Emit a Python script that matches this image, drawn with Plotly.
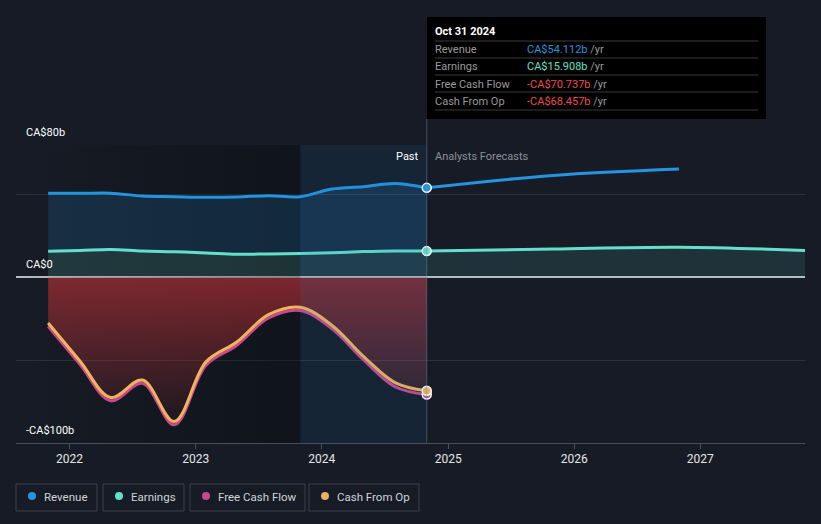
import plotly.graph_objects as go

# ---------------- data ----------------
past_dates = ["2021-10-31", "2022-01-31", "2022-04-30", "2022-07-31", "2022-10-31",
              "2023-01-31", "2023-04-30", "2023-07-31", "2023-10-31", "2024-01-31",
              "2024-04-30", "2024-07-31", "2024-10-31"]
revenue_past = [50.8, 50.8, 50.9, 49.2, 48.8, 48.4, 48.6, 49.4, 48.8, 53.4, 54.8, 56.8, 54.112]
earnings_past = [15.8, 16.3, 16.9, 15.9, 15.5, 14.8, 14.0, 14.2, 14.4, 14.9, 15.6, 16.0, 15.908]
fcf_past = [-29.5, -52.5, -74.5, -64.0, -89.0, -53.0, -41.0, -24.5, -20.0, -31.0, -49.5, -66.0, -70.737]
cfo_past = [-27.5, -50.5, -72.5, -62.0, -87.0, -51.0, -39.0, -22.5, -18.0, -29.0, -47.5, -63.5, -68.457]

rev_fc_dates = ["2024-10-31", "2025-10-31", "2026-10-31"]
revenue_fc = [54.112, 61.6, 65.5]
earn_fc_dates = ["2024-10-31", "2025-10-31", "2026-10-31", "2027-10-31"]
earnings_fc = [15.908, 17.2, 18.3, 16.3]

x_range = ["2021-07-30", "2027-10-31"]
y_range = [-100, 80]
grid_vals = [-100, -50, 0, 50, 80]
y_labels = {80: "CA$80b", 0: "CA$0", -100: "-CA$100b"}
band_start, band_end = "2023-10-31", "2024-10-31"

tooltip_date = "Oct 31 2024"
tooltip_rows = [("Revenue", "CA$54.112b", "#2394df"),
                ("Earnings", "CA$15.908b", "#5ee2c8"),
                ("Free Cash Flow", "-CA$70.737b", "#f04a4a"),
                ("Cash From Op", "-CA$68.457b", "#f04a4a")]
legend_items = [("Revenue", "#2394df"), ("Earnings", "#5ee2c8"),
                ("Free Cash Flow", "#c94a8c"), ("Cash From Op", "#e8b060")]

C_REV = "#2394df"
C_EARN = "#62e0cc"
C_FCF = "#c94a8c"
C_CFO = "#efb45c"
BG = "#161b25"
FONT = "Roboto"

# ---------------- geometry helpers (pixels -> paper) ----------------
W, H = 821, 524
L, R, T, B = 16, 805, 145, 443


def px(x):
    return (x - L) / (R - L)


def py(y):
    return (B - y) / (B - T)


fig = go.Figure()

# darker region before the highlighted year
fig.add_trace(go.Scatter(
    x=[x_range[0], band_start, band_start, x_range[0], x_range[0]],
    y=[y_range[0], y_range[0], y_range[1], y_range[1], y_range[0]],
    mode="none", fill="toself",
    fillgradient=dict(type="horizontal",
                      colorscale=[[0, "rgba(0,0,0,0)"], [1, "rgba(0,0,0,0.28)"]]),
    hoverinfo="skip", showlegend=False))

# earnings (filled to zero) then revenue filled to earnings
fig.add_trace(go.Scatter(x=past_dates, y=earnings_past, mode="none", fill="tozeroy",
                         fillcolor="rgba(98,224,204,0.16)", line_shape="spline",
                         hoverinfo="skip", showlegend=False))
fig.add_trace(go.Scatter(x=past_dates, y=revenue_past, mode="none", fill="tonexty",
                         fillcolor="rgba(35,148,223,0.17)", line_shape="spline",
                         hoverinfo="skip", showlegend=False))
fig.add_trace(go.Scatter(x=earn_fc_dates, y=earnings_fc, mode="none", fill="tozeroy",
                         fillcolor="rgba(98,224,204,0.12)", line_shape="spline",
                         hoverinfo="skip", showlegend=False))
fig.add_trace(go.Scatter(x=rev_fc_dates, y=earnings_fc[:len(rev_fc_dates)], mode="none",
                         line_shape="spline", hoverinfo="skip", showlegend=False))
fig.add_trace(go.Scatter(x=rev_fc_dates, y=revenue_fc, mode="none", fill="tonexty",
                         fillcolor="rgba(35,148,223,0.13)", line_shape="spline",
                         hoverinfo="skip", showlegend=False))

# negative cash flow area
fig.add_trace(go.Scatter(
    x=past_dates, y=fcf_past, mode="none", fill="tozeroy", line_shape="spline",
    fillgradient=dict(type="vertical",
                      colorscale=[[0, "rgba(190,50,55,0.05)"], [1, "rgba(190,50,55,0.62)"]]),
    hoverinfo="skip", showlegend=False))

# lines
fig.add_trace(go.Scatter(x=past_dates, y=revenue_past, mode="lines", line=dict(color=C_REV, width=3, shape="spline"), showlegend=False))
fig.add_trace(go.Scatter(x=rev_fc_dates, y=revenue_fc, mode="lines", line=dict(color=C_REV, width=3, shape="spline"), showlegend=False))
fig.add_trace(go.Scatter(x=past_dates, y=earnings_past, mode="lines", line=dict(color=C_EARN, width=3, shape="spline"), showlegend=False))
fig.add_trace(go.Scatter(x=earn_fc_dates, y=earnings_fc, mode="lines", line=dict(color=C_EARN, width=3, shape="spline"), showlegend=False))
fig.add_trace(go.Scatter(x=past_dates, y=fcf_past, mode="lines", line=dict(color=C_FCF, width=3, shape="spline"), showlegend=False))
fig.add_trace(go.Scatter(x=past_dates, y=cfo_past, mode="lines", line=dict(color=C_CFO, width=3, shape="spline"), showlegend=False))

# end-of-past markers
last = past_dates[-1]
for series, col in [(revenue_past, C_REV), (earnings_past, C_EARN), (fcf_past, C_FCF), (cfo_past, C_CFO)]:
    fig.add_trace(go.Scatter(x=[last], y=[series[-1]], mode="markers",
                             marker=dict(size=9, color=col, line=dict(color="white", width=1.5)),
                             showlegend=False, hoverinfo="skip"))

shapes = []
# highlighted past year band (overlay)
shapes.append(dict(type="rect", xref="x", yref="y", x0=band_start, x1=band_end,
                   y0=y_range[0], y1=y_range[1], line=dict(width=0),
                   fillcolor="rgba(30,120,200,0.11)", layer="above"))
# vertical cursor line
shapes.append(dict(type="line", xref="x", yref="paper", x0=band_end, x1=band_end,
                   y0=0, y1=py(119), line=dict(color="rgba(120,140,160,0.45)", width=1)))
# tooltip box
shapes.append(dict(type="rect", xref="paper", yref="paper", x0=px(427), x1=px(766),
                   y0=py(119), y1=py(17), fillcolor="#000000", line=dict(width=0), layer="above"))
for yy in [41, 58, 75, 92, 110]:
    shapes.append(dict(type="line", xref="paper", yref="paper", x0=px(435), x1=px(758),
                       y0=py(yy), y1=py(yy), line=dict(color="#3a3a3a", width=1), layer="above"))

annotations = []
annotations.append(dict(xref="paper", yref="paper", x=px(433), y=py(31), text="<b>" + tooltip_date + "</b>",
                        showarrow=False, xanchor="left", yanchor="middle",
                        font=dict(family=FONT, size=11, color="#ffffff")))
for i, (lab, val, col) in enumerate(tooltip_rows):
    yy = 49.5 + i * 17.3
    annotations.append(dict(xref="paper", yref="paper", x=px(433), y=py(yy), text=lab,
                            showarrow=False, xanchor="left", yanchor="middle",
                            font=dict(family=FONT, size=11, color="#9a9a9a")))
    annotations.append(dict(xref="paper", yref="paper", x=px(525), y=py(yy),
                            text="<span style='color:%s'>%s</span> /yr" % (col, val),
                            showarrow=False, xanchor="left", yanchor="middle",
                            font=dict(family=FONT, size=11, color="#9a9a9a")))

# y labels
for v, txt in y_labels.items():
    ypix = B - (v - y_range[0]) / (y_range[1] - y_range[0]) * (B - T)
    annotations.append(dict(xref="paper", yref="paper", x=px(24), y=py(ypix - 13), text=txt,
                            showarrow=False, xanchor="left", yanchor="middle",
                            font=dict(family=FONT, size=11, color="#ffffff")))

# Past / Analysts Forecasts
annotations.append(dict(xref="paper", yref="paper", x=px(421), y=py(156), text="Past",
                        showarrow=False, xanchor="right", yanchor="middle",
                        font=dict(family=FONT, size=11, color="#ffffff")))
annotations.append(dict(xref="paper", yref="paper", x=px(433), y=py(156), text="Analysts Forecasts",
                        showarrow=False, xanchor="left", yanchor="middle",
                        font=dict(family=FONT, size=11, color="#8a9099")))

# legend boxes
box_x = [(16, 97), (103, 184), (190, 305), (309, 419)]
for (lab, col), (x0, x1) in zip(legend_items, box_x):
    shapes.append(dict(type="rect", xref="paper", yref="paper", x0=px(x0), x1=px(x1),
                       y0=py(511), y1=py(484), line=dict(color="#3b414d", width=1),
                       fillcolor="rgba(0,0,0,0)"))
    shapes.append(dict(type="circle", xref="paper", yref="paper", x0=px(x0 + 12), x1=px(x0 + 20),
                       y0=py(500), y1=py(492), line=dict(width=0), fillcolor=col))
    annotations.append(dict(xref="paper", yref="paper", x=px(x0 + 26), y=py(496.5), text=lab,
                            showarrow=False, xanchor="left", yanchor="middle",
                            font=dict(family=FONT, size=11.5, color="#d0d3d8")))

fig.update_layout(
    width=W, height=H,
    margin=dict(l=L, r=W - R, t=T, b=H - B),
    paper_bgcolor=BG, plot_bgcolor=BG,
    showlegend=False,
    hovermode=False,
    shapes=shapes, annotations=annotations,
    xaxis=dict(type="date", range=x_range, showgrid=False, zeroline=False,
               showline=True, linecolor="#4a505a", linewidth=1,
               ticks="outside", ticklen=5, tickcolor="#4a505a",
               dtick="M12", tick0="2022-01-01", tickformat="%Y",
               tickfont=dict(family=FONT, size=12, color="#e6e6e6")),
    yaxis=dict(range=y_range, tickvals=grid_vals, showticklabels=False,
               showgrid=True, gridcolor="#2b313c", gridwidth=1,
               zeroline=True, zerolinecolor="#b8bcc2", zerolinewidth=2,
               showline=False),
)

fig.write_html("out.html", config={"displayModeBar": False},
               post_script="document.body.style.margin='0';document.body.style.background='%s';" % BG)
